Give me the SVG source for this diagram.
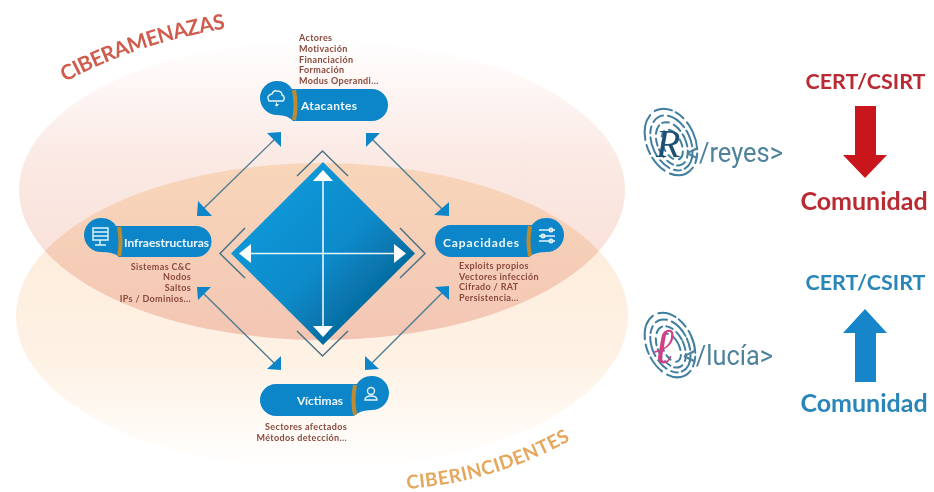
<svg xmlns="http://www.w3.org/2000/svg" width="934" height="492" viewBox="0 0 934 492">
<defs>
<linearGradient id="gU" x1="0" y1="0" x2="0" y2="1"><stop offset="0" stop-color="#ffffff"/><stop offset="0.4" stop-color="#fbe9e4"/><stop offset="1" stop-color="#f8dcd2"/></linearGradient>
<linearGradient id="gL" x1="0" y1="0" x2="0" y2="1"><stop offset="0" stop-color="#fde9d6"/><stop offset="0.65" stop-color="#fef2e5"/><stop offset="1" stop-color="#ffffff"/></linearGradient>
<linearGradient id="gM" gradientUnits="userSpaceOnUse" x1="0" y1="163" x2="0" y2="340"><stop offset="0" stop-color="#f8d6ba"/><stop offset="1" stop-color="#f3c6b4"/></linearGradient>
<linearGradient id="gD" x1="0.2" y1="0.2" x2="0.85" y2="0.85"><stop offset="0" stop-color="#0e98d8"/><stop offset="0.5" stop-color="#0a8aca"/><stop offset="1" stop-color="#04608f"/></linearGradient>
<clipPath id="cU"><ellipse cx="322" cy="190" rx="303" ry="150"/></clipPath>
<filter id="soft" x="0" y="0" width="100%" height="100%"><feGaussianBlur stdDeviation="0.4"/></filter>
<path id="pA" d="M65 82Q140 42 229 28"/>
<path id="pI" d="M407 489Q495 482 569 441"/>
<style>
text{font-family:"Lato","Liberation Sans",sans-serif;font-weight:700}
.n{fill:#0f85c9}
.st{fill:none;stroke:#c08a2e;stroke-width:4}
.lb{fill:#eef7fc;font-size:12px}
.d{fill:#8a4a3c;font-size:9px;letter-spacing:.35px}
.l{stroke:#4f7d93;stroke-width:1.4;fill:none}
.h{fill:#0f85c9}
.c{stroke:#4f7385;stroke-width:1.5;fill:none}
.w{fill:#ffffff}
.wl{stroke:#e8f5fb;stroke-width:1.6;fill:none}
.ic{fill:none;stroke:#e4f3fb;stroke-width:1.4}
.fp{fill:none;stroke:#3f7f9f;stroke-width:2;stroke-linecap:round}
.logo{fill:#4f829c;font-family:"Roboto","Liberation Sans",sans-serif;font-weight:400;font-size:27px}
.big{font-size:21.500px}
.com{font-size:25px}
.mono{font-family:"Liberation Serif",serif;font-style:italic;font-weight:400}
</style>
</defs>
<rect width="934" height="492" fill="#ffffff"/>
<g filter="url(#soft)">
<g id="ellipses">
<ellipse cx="322" cy="316" rx="306" ry="153" fill="url(#gL)"/>
<ellipse cx="322" cy="190" rx="303" ry="150" fill="url(#gU)"/>
<ellipse cx="322" cy="316" rx="306" ry="153" fill="url(#gM)" clip-path="url(#cU)"/>
</g>
<text id="ciberamenazas" fill="#cf5c4e" font-size="21"><textPath href="#pA" textLength="170" lengthAdjust="spacing">CIBERAMENAZAS</textPath></text>
<text id="ciberincidentes" fill="#e6a75c" font-size="19"><textPath href="#pI" textLength="172" lengthAdjust="spacing">CIBERINCIDENTES</textPath></text>
<g id="connectors">
<path class="l" d="M277 137L201 211"/><path class="h" d="M281 132L267 133L281 147Z"/><path class="h" d="M197 216L212 216L198 201Z"/>
<path class="l" d="M370 137L445 212"/><path class="h" d="M366 133L380 133L366 147Z"/><path class="h" d="M449 216L434 215L449 202Z"/>
<path class="l" d="M201 291L277 366"/><path class="h" d="M197 287L211 287L198 300Z"/><path class="h" d="M281 370L267 369L281 356Z"/>
<path class="l" d="M445 290L369 366"/><path class="h" d="M449 286L435 287L449 300Z"/><path class="h" d="M365 370L379 369L365 356Z"/>
</g>
<g id="matrix">
<path d="M323 162L415 253.500L323 345L231 253.500Z" fill="url(#gD)"/>
<path class="c" d="M297 176L322.500 151L348 176"/>
<path class="c" d="M297 331L322.500 356L348 331"/>
<path class="c" d="M245 228L220 253.500L245 278"/>
<path class="c" d="M400 228L425 253.500L400 278"/>
<path class="wl" d="M323 175V332M243 253.500H403"/>
<path class="w" d="M323 170L333 181H313Z"/><path class="w" d="M323 337L333 326H313Z"/>
<path class="w" d="M239 253.500L251 244V263Z"/><path class="w" d="M406 253.500L394 244V263Z"/>
</g>
<g id="atacantes">
<text class="d" x="299" y="41">Actores</text><text class="d" x="299" y="52">Motivación</text><text class="d" x="299" y="62.500">Financiación</text><text class="d" x="299" y="73">Formación</text><text class="d" x="299" y="84">Modus Operandi...</text>
<path class="n" d="M277 81A17 17 0 0 1 292 89H372A16 16 0 0 1 372 121H293Q288 115 277 115A17 17 0 0 1 277 81Z"/>
<path class="st" d="M294 90Q297 105 294 120"/>
<text class="lb" x="301" y="110" textLength="56">Atacantes</text>
<path class="ic" d="M269 101Q266 95 272 94Q273 90 277 91Q282 91 282 95Q286 97 283 101Z"/><path d="M277 101L275 106H277L275 109L279 104H277Z" fill="#e4f3fb"/>
</g>
<g id="infraestructuras">
<path class="n" d="M101 218A17 17 0 0 1 116 226H196A15.500 15.500 0 0 1 196 257H119Q114 252 101 252A17 17 0 0 1 101 218Z"/>
<path class="st" d="M119 227Q122 242 119 256"/>
<text class="lb" x="124" y="247" textLength="85">Infraestructuras</text>
<text class="d" x="191" y="270" text-anchor="end">Sistemas C&amp;C</text><text class="d" x="191" y="280" text-anchor="end">Nodos</text><text class="d" x="191" y="291" text-anchor="end">Saltos</text><text class="d" x="191" y="302" text-anchor="end">IPs / Dominios...</text>
<path class="ic" d="M93 228H108V240H93ZM93 232H108M93 236H108M100 240V245M95 245H106"/>
</g>
<g id="capacidades">
<path class="n" d="M547 218A17 17 0 0 1 547 252Q535 252 529 257H451A16 16 0 0 1 451 225H532A17 17 0 0 1 547 218Z"/>
<path class="st" d="M530 226Q527 241 530 256"/>
<text class="lb" x="443" y="247" textLength="76">Capacidades</text>
<text class="d" x="459" y="269">Exploits propios</text><text class="d" x="459" y="280">Vectores infección</text><text class="d" x="459" y="290">Cifrado / RAT</text><text class="d" x="459" y="301">Persistencia...</text>
<path class="ic" d="M539 230H555M539 236H555M539 241H555"/><circle cx="551" cy="230" r="1.800" class="ic"/><circle cx="543" cy="236" r="1.800" class="ic"/><circle cx="551" cy="241" r="1.800" class="ic"/>
</g>
<g id="victimas">
<path class="n" d="M372 376A17 17 0 0 1 372 410Q360 410 354 416H276A16 16 0 0 1 276 384H357A17 17 0 0 1 372 376Z"/>
<path class="st" d="M355 385Q352 400 355 415"/>
<text class="lb" x="297" y="405" textLength="46">Víctimas</text>
<text class="d" x="347" y="430" text-anchor="end">Sectores afectados</text><text class="d" x="347" y="441" text-anchor="end">Métodos detección...</text>
<circle class="ic" cx="371" cy="391" r="3.500"/><path class="ic" d="M365 400Q365 396 371 396Q377 396 377 400Z"/>
</g>
<g id="reyes">
<g class="fp" transform="rotate(-25 671 142)">
<ellipse cx="671" cy="142" rx="24" ry="35" stroke-dasharray="18 4 10 5 26 6"/>
<ellipse cx="671" cy="143" rx="19" ry="29" stroke-dasharray="12 5 20 4 7 5"/>
<ellipse cx="671" cy="144" rx="14" ry="23" stroke-dasharray="9 4 7 5"/>
<ellipse cx="671" cy="145" rx="9" ry="16" stroke-dasharray="6 5 9 6"/>
</g>
<text class="mono" x="656" y="157" font-size="40" fill="#1f4f73">R</text>
<text class="logo" x="686" y="162" textLength="97" lengthAdjust="spacingAndGlyphs">&lt;/reyes&gt;</text>
</g>
<g id="lucia">
<g class="fp" transform="rotate(-25 670 345)">
<ellipse cx="670" cy="345" rx="23" ry="34" stroke-dasharray="18 4 10 5 26 6"/>
<ellipse cx="670" cy="346" rx="18" ry="28" stroke-dasharray="12 5 20 4 7 5"/>
<ellipse cx="670" cy="347" rx="13" ry="22" stroke-dasharray="9 4 7 5"/>
<ellipse cx="670" cy="348" rx="8" ry="15" stroke-dasharray="6 5 9 6"/>
</g>
<text class="mono" x="653" y="363" font-size="50" fill="#d13f86">ℓ</text>
<text class="logo" x="683" y="365" textLength="90" lengthAdjust="spacingAndGlyphs">&lt;/lucía&gt;</text>
</g>
<g id="flow-down">
<text class="big" x="865.500" y="89" text-anchor="middle" fill="#b92a33">CERT/CSIRT</text>
<path d="M855 106H876V155H887L865 178L843 155H855Z" fill="#c8161d"/>
<text class="com" x="864" y="210" text-anchor="middle" fill="#b92a33">Comunidad</text>
</g>
<g id="flow-up">
<text class="big" x="865.500" y="290" text-anchor="middle" fill="#2a86b8">CERT/CSIRT</text>
<path d="M855 382H876V333H887L865 309L843 333H855Z" fill="#1285c9"/>
<text class="com" x="864" y="412" text-anchor="middle" fill="#2a86b8">Comunidad</text>
</g>
</g>
</svg>
